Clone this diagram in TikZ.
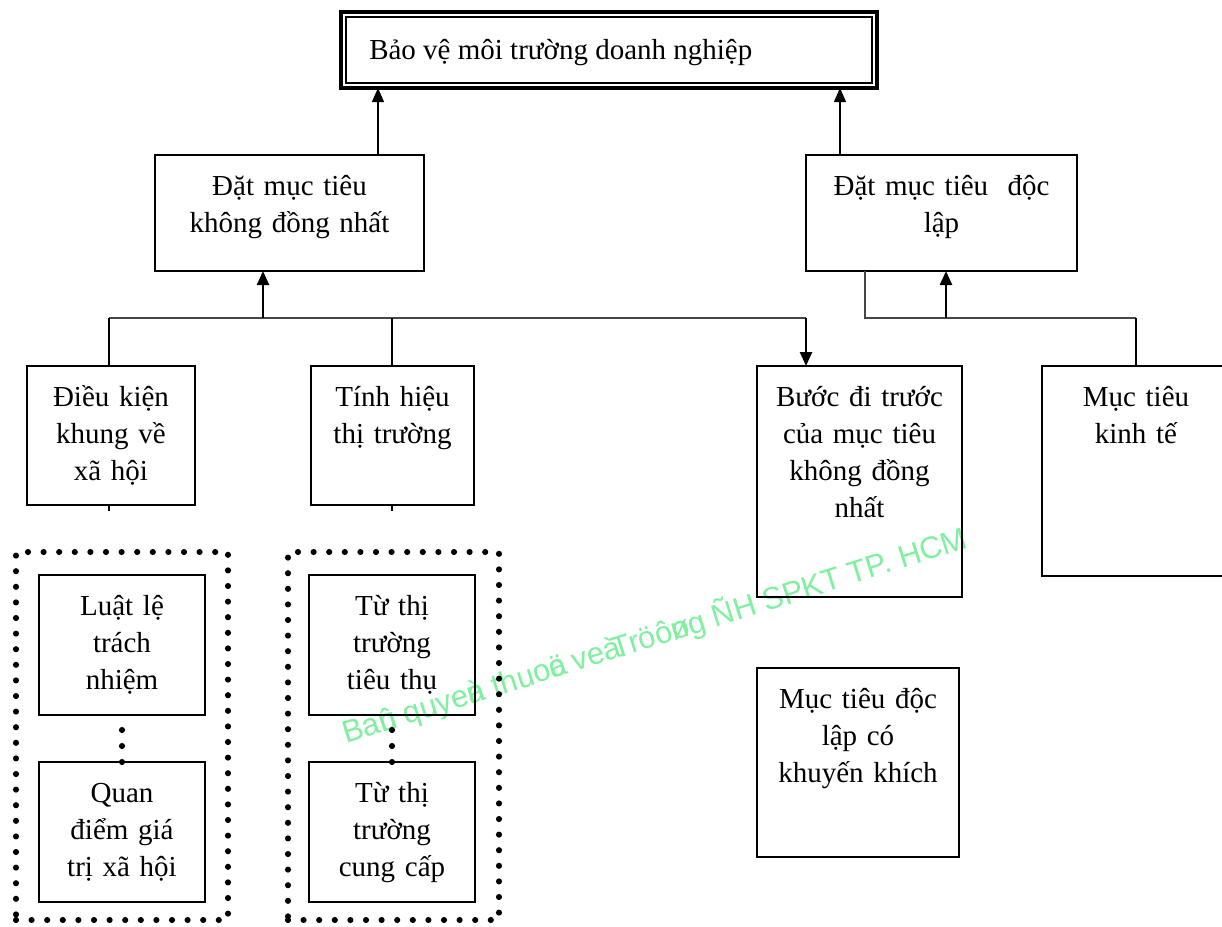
\documentclass[tikz,border=0pt]{standalone}
\usepackage{fontspec}
\setmainfont{Liberation Serif}
\newfontfamily\wmfont{Liberation Sans}
\usetikzlibrary{arrows.meta,fit}
\newlength\pxu
\setlength\pxu{0.75pt}
\definecolor{wmgreen}{RGB}{128,240,160}
\definecolor{busgray}{RGB}{70,70,70}
\begin{document}
\begin{tikzpicture}[x=0.75pt,y=-0.75pt,
  box/.style={draw,line width=1.1pt,inner sep=0pt,outer sep=0pt},
  lbl/.style={anchor=base,align=center,text width=260\pxu,inner sep=0pt,
    font=\fontsize{21.75pt}{27.75pt}\selectfont},
  thinline/.style={line width=0.8pt},
  busline/.style={line width=1.2pt,draw=busgray},
  thickarr/.style={line width=1.8pt,-{Triangle[length=10.5pt,width=9pt]}},
  thinarr/.style={line width=0.8pt,-{Triangle[length=10.5pt,width=9pt]}},
  dotsty/.style={line width=4.6pt,line cap=round,dash pattern=on 0pt off 11.7pt},
  dotlink/.style={line width=4.6pt,line cap=round,dash pattern=on 0pt off 12pt}
]
\useasboundingbox (0,0) rectangle (1222,926);
\fill[white] (0,0) rectangle (1222,926);

% watermark (drawn first, behind everything)
\node[anchor=base west,rotate=17.5,inner sep=0pt,text=wmgreen,
  font=\wmfont\fontsize{23.2pt}{23.2pt}\selectfont] (wm) at (346,744)
  {Ba\rlap{û}n quye\rlap{à}n thuo\rlap{ä}c ve\rlap{à} Tröô\rlap{ø}ng ÑH SPKT TP. HCM};

% top box (double border)
\node[inner sep=0pt,outer sep=0pt,draw,line width=2.4pt,fit={(341,12) (877,88)}] (top) {};
\node[inner sep=0pt,outer sep=0pt,draw,line width=1.1pt,fit={(346,17) (872,83)}] (topin) {};
\node[anchor=base west,inner sep=0pt,font=\fontsize{21.75pt}{27.75pt}\selectfont] (toptxt) at (369,59) {Bảo vệ môi trường doanh nghiệp};

% middle boxes
\node[box,fit={(155,155) (424,271)}] (m1) {};
\node[lbl] (m1t) at ([yshift=-40\pxu]m1.north) {Đặt mục tiêu\\không đồng nhất};
\node[box,fit={(806,155) (1077,271)}] (m2) {};
\node[lbl] (m2t) at ([yshift=-40\pxu]m2.north) {Đặt mục tiêu \ độc\\lập};

% lower boxes
\node[box,fit={(27,366) (195,505)}] (dk) {};
\node[lbl] (dkt) at ([yshift=-40\pxu]dk.north) {Điều kiện\\khung về\\xã hội};
\node[box,fit={(311,366) (474,505)}] (th) {};
\node[lbl] (tht) at ([yshift=-40\pxu]th.north) {Tính hiệu\\thị trường};
\node[box,fit={(757,366) (962,597)}] (bd) {};
\node[lbl] (bdt) at ([yshift=-40\pxu]bd.north) {Bước đi trước\\của mục tiêu\\không đồng\\nhất};
\node[box,fit={(1042,366) (1232,576)}] (kt) {};
\node[lbl] (ktt) at (1136,406) {Mục tiêu\\kinh tế};
\node[box,fit={(757,668) (959,857)}] (dl) {};
\node[lbl] (dlt) at ([yshift=-40\pxu]dl.north) {Mục tiêu độc\\lập có\\khuyến khích};

% dotted groups
\node[inner sep=0pt,draw,dotsty,fit={(16,552) (228,920)}] (g1) {};
\node[inner sep=0pt,draw,dotsty,fit={(288,552) (499,920)}] (g2) {};
\node[box,fit={(39,575) (205,715)}] (l1) {};
\node[lbl] (l1t) at ([yshift=-40\pxu]l1.north) {Luật lệ\\trách\\nhiệm};
\node[box,fit={(39,762) (205,902)}] (l2) {};
\node[lbl] (l2t) at ([yshift=-40\pxu]l2.north) {Quan\\điểm giá\\trị xã hội};
\node[box,fit={(309,575) (475,715)}] (t1) {};
\node[lbl] (t1t) at ([yshift=-40\pxu]t1.north) {Từ thị\\trường\\tiêu thụ};
\node[box,fit={(309,762) (475,902)}] (t2) {};
\node[lbl] (t2t) at ([yshift=-40\pxu]t2.north) {Từ thị\\trường\\cung cấp};

\draw[dotlink] (l2.north) -- (l1.south);
\draw[dotlink] (t2.north) -- (t1.south);

% coordinates for connectors
\coordinate (a1) at (378,0);
\coordinate (a2) at (840,0);
\coordinate (bl) at (109,318);
\coordinate (bt) at (392,318);
\coordinate (ba) at (263,318);
\coordinate (br) at (806,318);
\coordinate (rl) at (865,318);
\coordinate (ra) at (946,318);
\coordinate (rr) at (1136,318);
\coordinate (s1) at (109,511);
\coordinate (s2) at (392,511);

% top arrows
\draw[thinarr] (m1.north -| a1) -- (top.south -| a1);
\draw[thinarr] (m2.north -| a2) -- (top.south -| a2);

% left bus
\draw[busline] (bl) -- (br);
\draw[thinline] (bl) -- (dk.north -| bl);
\draw[thinline] (bt) -- (th.north -| bt);
\draw[thickarr] (ba) -- (m1.south -| ba);
\draw[thickarr] (br) -- (bd.north -| br);
\draw[thinline] (dk.south -| s1) -- (s1);
\draw[thinline] (th.south -| s2) -- (s2);

% right bus
\draw[busline] (m2.south -| rl) -- (rl) -- (rr);
\draw[thinline] (rr) -- (kt.north -| rr);
\draw[thickarr] (ra) -- (m2.south -| ra);
\end{tikzpicture}
\end{document}
